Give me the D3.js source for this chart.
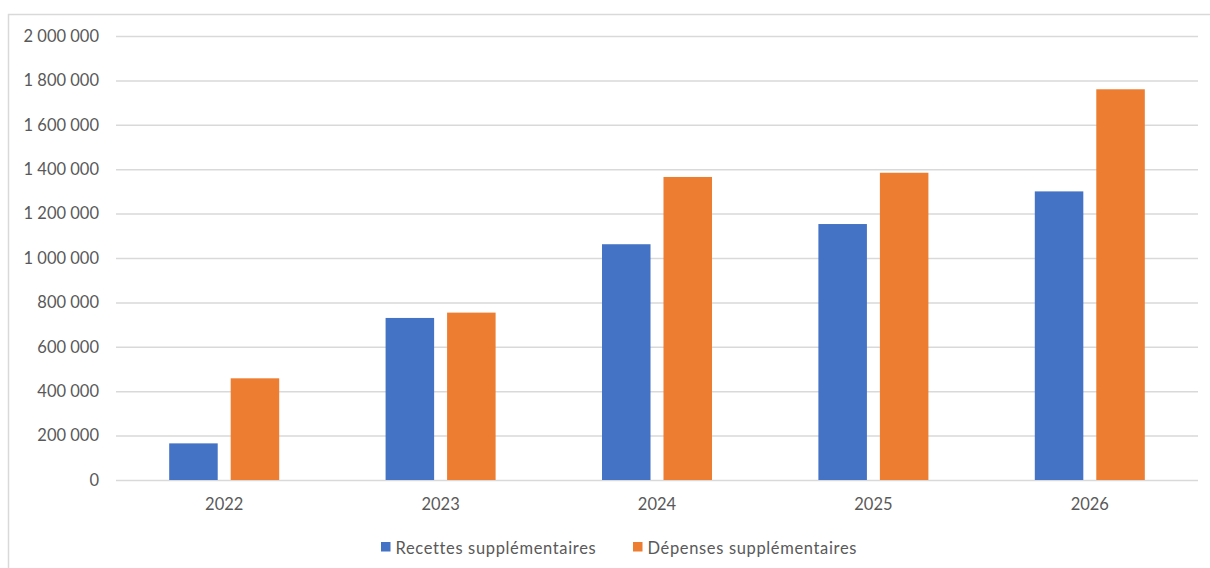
<!DOCTYPE html>
<html>
<head>
<meta charset="utf-8">
<script src="https://cdn.jsdelivr.net/npm/d3@7"></script>
<style>
  body { margin: 0; background: #fff; }
  svg { display: block; font-family: Lato, "Open Sans", sans-serif; }
</style>
</head>
<body>
<div id="chart"></div>
<script>
const years = ['2022', '2023', '2024', '2025', '2026']
const series = ['Recettes supplémentaires', 'Dépenses supplémentaires']
const recettes = [165000, 730000, 1062000, 1153000, 1300000]
const depenses = [458000, 754000, 1365000, 1384000, 1760000]
const yTicks = [0, 200000, 400000, 600000, 800000, 1000000, 1200000, 1400000, 1600000, 1800000, 2000000]
const colors = ['#4472C4', '#ED7D31']

const width = 1210, height = 568
const margin = ({ top: 36, right: 12, bottom: 88, left: 116 })

const svg = d3.select('#chart')
    .append('svg')
    .attr('width', width)
    .attr('height', height)

// chart frame (top + left edges visible)
svg.append('path')
    .attr('d', `M8.5,${height} V14.5 H${width}`)
    .attr('fill', 'none')
    .attr('stroke', '#d9d9d9')
    .attr('stroke-width', 1.5)

const x = d3.scaleBand()
    .domain(years)
    .range([margin.left, width - margin.right])
const xs = d3.scaleBand()
    .domain(series)
    .range([0, x.bandwidth()])
    .paddingInner(0.211)
    .paddingOuter(0.865)
const y = d3.scaleLinear()
    .domain([0, 2000000])
    .range([height - margin.bottom, margin.top])

const fmt = v => d3.format(',')(v).replace(/,/g, ' ')

const yAxis = g => g
    .attr('transform', `translate(${margin.left},0)`)
    .call(d3.axisLeft(y).tickValues(yTicks).tickFormat(fmt)
        .tickSize(-(width - margin.left - margin.right)).tickPadding(17))
    .call(g => g.select('.domain').remove())
    .call(g => g.selectAll('.tick line').attr('stroke', '#d9d9d9').attr('stroke-width', 1.5))
    .call(g => g.selectAll('.tick text')
        .attr('fill', '#595959').attr('font-size', 16.5).attr('font-family', 'Lato'))

const xAxis = g => g
    .attr('transform', `translate(0,${height - margin.bottom})`)
    .call(d3.axisBottom(x).tickSize(0).tickPadding(18))
    .call(g => g.select('.domain').remove())
    .call(g => g.selectAll('.tick text')
        .attr('fill', '#595959').attr('font-size', 16.5).attr('font-family', 'Lato'))

svg.append('g').call(yAxis)

const data = years.map((yr, i) => ({ year: yr, values: [recettes[i], depenses[i]] }))

svg.append('g')
    .selectAll('g')
    .data(data)
    .join('g')
    .attr('transform', d => `translate(${x(d.year)},0)`)
    .selectAll('rect')
    .data(d => d.values.map((v, j) => ({ key: series[j], value: v, color: colors[j] })))
    .join('rect')
    .attr('x', d => xs(d.key))
    .attr('width', xs.bandwidth())
    .attr('y', d => y(d.value))
    .attr('height', d => y(0) - y(d.value))
    .attr('fill', d => d.color)

svg.append('g').call(xAxis)

// legend
const legendX = [381, 633]
const legend = svg.append('g')
    .selectAll('g')
    .data(series)
    .join('g')
    .attr('transform', (d, i) => `translate(${legendX[i]},542)`)
legend.append('rect')
    .attr('width', 9.5)
    .attr('height', 9.5)
    .attr('fill', (d, i) => colors[i])
legend.append('text')
    .attr('x', 14.5)
    .attr('y', 11.5)
    .attr('fill', '#595959')
    .attr('font-size', 16.5)
    .attr('letter-spacing', 0.65)
    .text(d => d)
</script>
</body>
</html>
